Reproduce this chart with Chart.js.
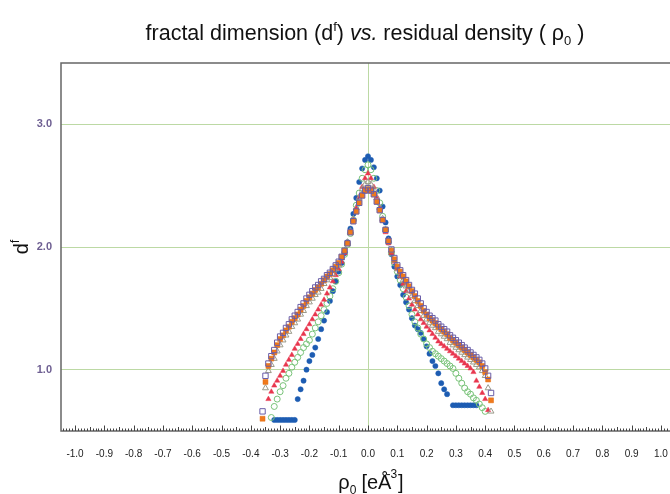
<!DOCTYPE html>
<html>
<head>
<meta charset="utf-8">
<script src="https://cdn.jsdelivr.net/npm/chart.js@4.4.1/dist/chart.umd.min.js"></script>
<style>
  html, body { margin: 0; padding: 0; background: #fff; overflow: hidden; }
  #wrap { width: 690px; height: 494px; }
</style>
</head>
<body>
<div id="wrap"><canvas id="myChart" width="690" height="494"></canvas></div>
<script>
// residual density rho0 [e/A^3], one entry per sample
var rho = [-0.36,-0.35,-0.34,-0.33,-0.32,-0.31,-0.30,-0.29,-0.28,-0.27,-0.26,-0.25,-0.24,-0.23,-0.22,-0.21,-0.20,-0.19,-0.18,-0.17,-0.16,-0.15,-0.14,-0.13,-0.12,-0.11,-0.10,-0.09,-0.08,-0.07,-0.06,-0.05,-0.04,-0.03,-0.02,-0.01,0.00,
           0.01,0.02,0.03,0.04,0.05,0.06,0.07,0.08,0.09,0.10,0.11,0.12,0.13,0.14,0.15,0.16,0.17,0.18,0.19,0.20,0.21,0.22,0.23,0.24,0.25,0.26,0.27,0.28,0.29,0.30,0.31,0.32,0.33,0.34,0.35,0.36,0.37,0.38,0.39,0.40,0.41,0.42]

// fractal dimension d^f for each series (null = no point)
var purpleSq = [0.66,0.95,1.05,1.11,1.16,1.22,1.27,1.30,1.34,1.37,1.41,1.44,1.47,1.51,1.54,1.58,1.61,1.64,1.67,1.69,1.72,1.74,1.77,1.79,1.82,1.85,1.88,1.92,1.97,2.03,2.12,2.21,2.29,2.36,2.42,2.46,2.48,
                2.46,2.43,2.37,2.30,2.22,2.14,2.05,1.98,1.91,1.85,1.81,1.77,1.73,1.69,1.65,1.62,1.58,1.54,1.50,1.47,1.44,1.42,1.40,1.37,1.35,1.33,1.31,1.28,1.26,1.24,1.22,1.20,1.18,1.16,1.14,1.12,1.10,1.08,1.05,1.01,0.95,0.81]
var orangeSq = [0.60,0.90,1.03,1.09,1.14,1.20,1.25,1.28,1.32,1.35,1.39,1.42,1.45,1.49,1.52,1.56,1.59,1.62,1.65,1.67,1.70,1.73,1.76,1.78,1.81,1.84,1.87,1.92,1.97,2.03,2.12,2.21,2.29,2.36,2.42,2.46,2.47,
                2.46,2.43,2.37,2.30,2.22,2.14,2.05,1.97,1.90,1.84,1.80,1.76,1.72,1.68,1.64,1.60,1.56,1.52,1.48,1.45,1.42,1.40,1.38,1.35,1.33,1.31,1.29,1.26,1.24,1.22,1.20,1.18,1.16,1.14,1.12,1.10,1.08,1.06,1.03,0.98,0.92,0.75]
var grayTri = [null,0.85,0.99,1.04,1.09,1.15,1.20,1.24,1.28,1.31,1.35,1.38,1.41,1.45,1.48,1.52,1.55,1.58,1.61,1.63,1.66,1.70,1.73,1.75,1.78,1.82,1.85,1.91,1.97,2.04,2.13,2.23,2.32,2.40,2.47,2.51,2.53,
               2.51,2.47,2.40,2.32,2.23,2.14,2.05,1.97,1.89,1.82,1.77,1.73,1.68,1.64,1.60,1.56,1.52,1.48,1.44,1.41,1.38,1.36,1.34,1.31,1.29,1.27,1.25,1.22,1.20,1.18,1.16,1.14,1.12,1.10,1.08,1.06,1.04,1.02,0.99,0.95,0.85,0.66]
var redTri = [null,null,0.76,0.82,0.87,0.91,0.95,0.99,1.04,1.08,1.12,1.17,1.21,1.25,1.29,1.33,1.37,1.41,1.45,1.49,1.53,1.57,1.62,1.67,1.72,1.77,1.82,1.88,1.95,2.03,2.12,2.22,2.32,2.41,2.49,2.56,2.60,
              2.56,2.49,2.41,2.32,2.22,2.12,2.03,1.95,1.88,1.82,1.76,1.70,1.64,1.58,1.53,1.49,1.45,1.41,1.38,1.35,1.32,1.29,1.26,1.23,1.21,1.19,1.17,1.15,1.13,1.11,1.09,1.07,1.05,1.03,1.01,0.98,0.91,0.86,0.81,0.76,0.67,null]
var greenCirc = [null,null,null,0.61,0.70,0.76,0.82,0.87,0.93,0.97,1.02,1.06,1.10,1.14,1.18,1.21,1.24,1.29,1.34,1.39,1.44,1.49,1.54,1.60,1.66,1.72,1.79,1.86,1.94,2.02,2.11,2.22,2.34,2.44,2.56,2.63,2.67,
                 2.63,2.56,2.46,2.36,2.25,2.14,2.04,1.95,1.87,1.80,1.73,1.66,1.59,1.52,1.45,1.39,1.34,1.29,1.25,1.21,1.18,1.15,1.13,1.11,1.09,1.07,1.05,1.03,1.01,0.97,0.93,0.89,0.85,0.82,0.80,0.77,0.75,0.72,0.69,0.66,null,null]
var blueDot = [null,null,null,null,0.59,0.59,0.59,0.59,0.59,0.59,0.59,0.59,0.76,0.84,0.91,1.00,1.07,1.12,1.18,1.25,1.33,1.40,1.47,1.56,1.64,1.72,1.80,1.87,1.95,2.04,2.15,2.27,2.40,2.53,2.64,2.71,2.74,
               2.71,2.65,2.56,2.46,2.33,2.20,2.07,1.94,1.84,1.76,1.69,1.61,1.55,1.49,1.42,1.36,1.33,1.30,1.25,1.19,1.13,1.07,1.03,0.97,0.89,0.84,0.80,null,0.71,0.71,0.71,0.71,0.71,0.71,0.71,0.71,0.71,null,null,null,null,null]

var xTicks = [-1.0,-0.9,-0.8,-0.7,-0.6,-0.5,-0.4,-0.3,-0.2,-0.1,0.0,0.1,0.2,0.3,0.4,0.5,0.6,0.7,0.8,0.9,1.0]
var yTicks = [1.0, 2.0, 3.0]

var gridGreen = '#bcd9a4'
var frameGray = '#666666'

function pts(arr){
    var out = []
    arr.forEach(function(v, i){ if (v !== null) out.push({ x: rho[i], y: v }) })
    return out
}

// draws a list of text pieces (with own font / vertical shift) centred on x
function richText(ctx, parts, x, y){
    var w = 0
    parts.forEach(function(p){ ctx.font = p.font; w += ctx.measureText(p.t).width + (p.gap || 0) })
    var cx = x - w / 2
    ctx.textAlign = 'left'
    ctx.textBaseline = 'alphabetic'
    parts.forEach(function(p){
        ctx.font = p.font
        ctx.fillText(p.t, cx + (p.pre || 0), y + (p.dy || 0))
        cx += ctx.measureText(p.t).width + (p.gap || 0)
    })
}

var decorations = {
    id: 'decorations',
    afterDraw: function(chart){
        var ctx = chart.ctx
        var a = chart.chartArea
        var xs = chart.scales.x
        ctx.save()

        // frame
        ctx.strokeStyle = frameGray
        ctx.lineWidth = 1.5
        ctx.strokeRect(a.left, a.top, a.right - a.left, a.bottom - a.top)

        // inward ticks along the bottom axis
        ctx.strokeStyle = '#444'
        ctx.lineWidth = 1
        ctx.beginPath()
        for (var i = -104; i <= 104; i++){
            var px = Math.round(xs.getPixelForValue(i / 100)) + 0.5
            var h = (i % 10 === 0) ? 5.5 : ((i % 5 === 0) ? 4 : 2.5)
            ctx.moveTo(px, a.bottom)
            ctx.lineTo(px, a.bottom - h)
        }
        ctx.stroke()

        ctx.fillStyle = '#111'
        var F = '"Liberation Sans", Arial, sans-serif'

        // title
        richText(ctx, [
            { t: 'fractal dimension (d', font: '21.5px ' + F },
            { t: 'f', font: '13px ' + F, dy: -9 },
            { t: ') ', font: '21.5px ' + F },
            { t: 'vs.', font: 'italic 21.5px ' + F },
            { t: ' residual density ( ', font: '21.5px ' + F },
            { t: 'ρ', font: '21.5px ' + F },
            { t: '0', font: '13px ' + F, dy: 5 },
            { t: ' )', font: '21.5px ' + F }
        ], 365, 40)

        // x axis title
        richText(ctx, [
            { t: 'ρ', font: '20px ' + F },
            { t: '0', font: '12px ' + F, dy: 5, gap: 5 },
            { t: '[eÅ', font: '20px ' + F },
            { t: '-3', font: '12px ' + F, dy: -11, pre: -5, gap: -4 },
            { t: ']', font: '20px ' + F }
        ], 371, 489)

        // y axis title
        ctx.translate(28, 247)
        ctx.rotate(-Math.PI / 2)
        richText(ctx, [
            { t: 'd', font: '20px ' + F },
            { t: 'f', font: '12px ' + F, dy: -9 }
        ], 0, 0)
        ctx.restore()
    }
}

var ctx = document.getElementById('myChart')

var chart = new Chart(ctx, {
    type: 'scatter',
    data: {
        datasets: [
            { data: pts(purpleSq), pointStyle: 'rect', pointRadius: 3.8, backgroundColor: 'rgba(0,0,0,0)', borderColor: '#6a5ea8', borderWidth: 1 },
            { data: pts(orangeSq), pointStyle: 'rect', pointRadius: 3.5, backgroundColor: '#f07a1c', borderColor: '#e06a10', borderWidth: 0.5 },
            { data: pts(grayTri), pointStyle: 'triangle', pointRadius: 3.4, backgroundColor: 'rgba(0,0,0,0)', borderColor: '#9a9a8a', borderWidth: 1 },
            { data: pts(redTri), pointStyle: 'triangle', pointRadius: 3, backgroundColor: '#e8364e', borderColor: '#e8364e', borderWidth: 0.5 },
            { data: pts(greenCirc), pointStyle: 'circle', pointRadius: 3, backgroundColor: 'rgba(0,0,0,0)', borderColor: '#78c278', borderWidth: 1 },
            { data: pts(blueDot), pointStyle: 'circle', pointRadius: 2.6, backgroundColor: '#1d5cb2', borderColor: '#1d5cb2', borderWidth: 0.5 }
        ]
    },
    options: {
        responsive: false,
        animation: false,
        events: [],
        layout: { padding: { left: 0, top: 63, right: 15, bottom: 0 } },
        plugins: { legend: { display: false }, tooltip: { enabled: false }, title: { display: false } },
        scales: {
            x: {
                type: 'linear',
                min: -1.048, max: 1.048,
                afterBuildTicks: function(scale){ scale.ticks = xTicks.map(function(v){ return { value: v } }) },
                afterFit: function(scale){ scale.height = 63 },
                grid: {
                    color: function(c){ return (c.tick && Math.abs(c.tick.value) < 1e-9) ? gridGreen : 'rgba(0,0,0,0)' },
                    drawTicks: false
                },
                border: { display: false },
                ticks: {
                    padding: 17,
                    maxRotation: 0,
                    autoSkip: false,
                    color: '#222',
                    font: { family: '"Liberation Sans", Arial, sans-serif', size: 10 },
                    callback: function(v){ return Number(v).toFixed(1) }
                }
            },
            y: {
                min: 0.5, max: 3.5,
                afterBuildTicks: function(scale){ scale.ticks = yTicks.map(function(v){ return { value: v } }) },
                afterFit: function(scale){ scale.width = 61 },
                grid: { color: gridGreen, drawTicks: false },
                border: { display: false },
                ticks: {
                    padding: 9,
                    color: '#6e5f92',
                    font: { family: '"Liberation Sans", Arial, sans-serif', size: 11, weight: 'bold' },
                    callback: function(v){ return Number(v).toFixed(1) }
                }
            }
        }
    },
    plugins: [decorations]
})
</script>
</body>
</html>
